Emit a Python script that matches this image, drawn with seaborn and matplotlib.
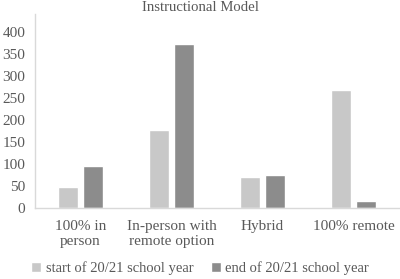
import matplotlib
matplotlib.use("Agg")
import matplotlib.pyplot as plt
import seaborn as sns
import pandas as pd

categories = ["100% in\nperson", "In-person with\nremote option", "Hybrid", "100% remote"]
series_names = ["start of 20/21 school year", "end of 20/21 school year"]
start_values = [48, 177, 70, 268]
end_values = [95, 373, 75, 16]
yticks = [0, 50, 100, 150, 200, 250, 300, 350, 400]

df = pd.DataFrame({
    "category": categories * 2,
    "series": [series_names[0]] * 4 + [series_names[1]] * 4,
    "value": start_values + end_values,
})

sns.set_theme(style="white")
plt.rcParams["font.family"] = ["Liberation Serif", "DejaVu Serif"]
text_color = "#595959"

fig = plt.figure(figsize=(4.0, 2.79), dpi=100)
ax = fig.add_axes([0.0875, 0.2545, 0.91, 0.695])
sns.barplot(data=df, x="category", y="value", hue="series",
            palette=["#c8c8c8", "#8c8c8c"], width=0.57, gap=0.23,
            saturation=1, ax=ax, legend=True)

ax.set_ylim(0, 440)
ax.set_yticks(yticks)
ax.set_xlim(-0.5, 3.5)
ax.set_xlabel("")
ax.set_ylabel("")
ax.tick_params(axis="y", length=0, labelsize=11, colors=text_color, pad=7)
ax.tick_params(axis="x", length=0, labelsize=11, colors=text_color, pad=9)
for lbl in ax.get_xticklabels():
    lbl.set_linespacing(1.15)
for side in ["top", "right"]:
    ax.spines[side].set_visible(False)
for side in ["left", "bottom"]:
    ax.spines[side].set_color("#d9d9d9")
    ax.spines[side].set_linewidth(1.0)

fig.text(0.5, 0.995, "Instructional Model", ha="center", va="top",
         fontsize=10.6, color=text_color)

handles, labels = ax.get_legend_handles_labels()
ax.legend_.remove()
fig.legend(handles, labels, loc="center", bbox_to_anchor=(0.5, 0.038), ncol=2,
           frameon=False, fontsize=10.5, labelcolor=text_color,
           handlelength=0.7, handleheight=0.7, handletextpad=0.3,
           columnspacing=1.2)

fig.savefig("out.png", dpi=100)
